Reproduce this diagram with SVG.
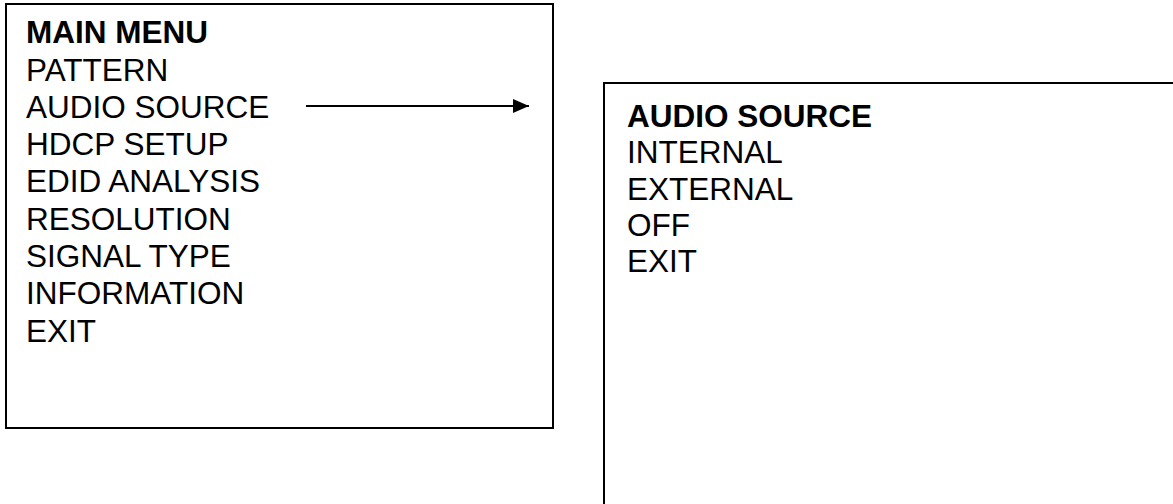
<svg xmlns="http://www.w3.org/2000/svg" width="1173" height="504" viewBox="0 0 1173 504">
<style>
.box{fill:#fff;stroke:#000;stroke-width:2}
.t{font-family:"Liberation Sans",Arial,sans-serif;font-size:31.5px;fill:#000}
.b{font-weight:bold}
.c{stroke:#000;stroke-width:2;fill:none}
</style>
<defs>
<marker id="ah" markerUnits="userSpaceOnUse" markerWidth="16" markerHeight="14" refX="16" refY="7" orient="auto">
<path d="M0,0 L16,7 L0,14 Z" fill="#000"/>
</marker>
</defs>
<rect width="1173" height="504" fill="#fff"/>
<g id="main-menu">
<rect class="box" x="6" y="4" width="547" height="424"/>
<text class="t b" x="26" y="43">MAIN MENU</text>
<text class="t" x="26" y="80.5">PATTERN</text>
<text class="t" x="26" y="117.8">AUDIO SOURCE</text>
<text class="t" x="26" y="155.1">HDCP SETUP</text>
<text class="t" x="26" y="192.4">EDID ANALYSIS</text>
<text class="t" x="26" y="229.7">RESOLUTION</text>
<text class="t" x="26" y="267">SIGNAL TYPE</text>
<text class="t" x="26" y="304.3">INFORMATION</text>
<text class="t" x="26" y="341.6">EXIT</text>
</g>
<g id="audio-source">
<rect class="box" x="604" y="83" width="600" height="450"/>
<text class="t b" x="627" y="127">AUDIO SOURCE</text>
<text class="t" x="627" y="163.3">INTERNAL</text>
<text class="t" x="627" y="199.6">EXTERNAL</text>
<text class="t" x="627" y="235.9">OFF</text>
<text class="t" x="627" y="272.2">EXIT</text>
</g>
<g id="connectors">
<line class="c" x1="306" y1="106" x2="529" y2="106" marker-end="url(#ah)"/>
</g>
</svg>
